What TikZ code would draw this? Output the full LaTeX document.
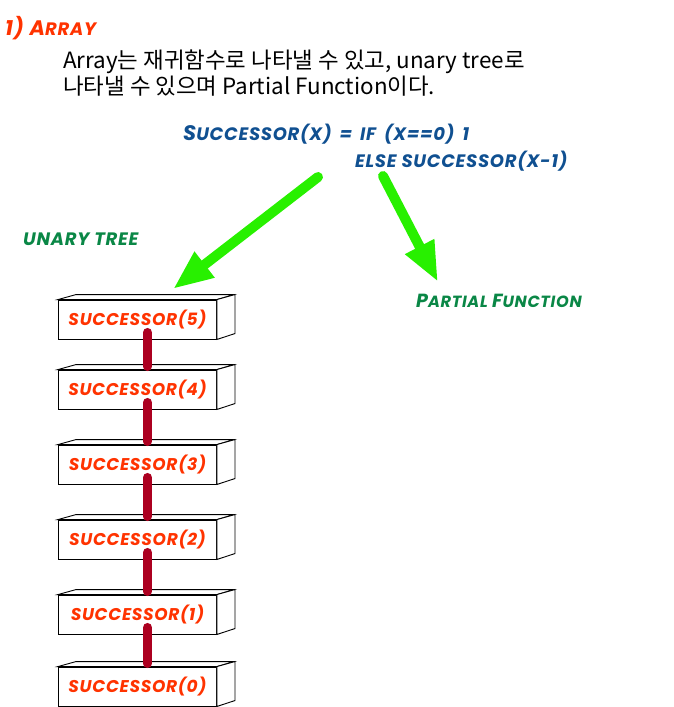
\documentclass[tikz,border=0pt]{standalone}
\usepackage{fontspec}
\setmainfont{Liberation Sans}
\newfontfamily\krfont{Noto Sans CJK KR}
\newfontfamily\comicfont[LetterSpace=4]{Poppins}
\usetikzlibrary{arrows.meta}
\definecolor{titlered}{RGB}{255,51,0}
\definecolor{formblue}{RGB}{16,80,145}
\definecolor{labgreen}{RGB}{10,135,70}
\definecolor{arrgreen}{RGB}{40,240,0}
\definecolor{linkred}{RGB}{172,0,32}
\newcommand\smc{\fontsize{18}{20}\selectfont}
\newcommand\bgc{\fontsize{21}{24}\selectfont}
\newcommand\wsp{\hspace{8pt}}
\tikzset{
  comic/.style={font=\comicfont\bfseries\itshape, inner sep=0pt},
  boxnode/.style={draw=black, line width=0.9pt, fill=white, minimum width=158pt, minimum height=39pt, inner sep=0pt,
    font=\comicfont\bfseries\itshape\fontsize{17}{20}\selectfont, text=titlered},
  face/.style={draw=black, line width=0.9pt, fill=white},
  garrow/.style={draw=arrgreen, line width=10pt, line cap=round, -{Triangle[length=40pt,width=30pt]}},
  link/.style={draw=linkred, line width=9pt, line cap=round},
  desc/.style={anchor=base west, inner sep=0pt, font=\krfont\fontsize{22.4}{26}\selectfont},
}
\begin{document}
\begin{tikzpicture}[x=1pt,y=-1pt]
\useasboundingbox (0,0) rectangle (673,707);
% title
\node[comic, anchor=base west, text=titlered] (title) at (5,35) {{\bgc 1)\ A}{\smc RRAY}};
% description
\node[desc] (desc1) at (63,68) {Array는 재귀함수로 나타낼 수 있고, unary tree로};
\node[desc] (desc2) at (63,94) {나타낼 수 있으며 Partial Function이다.};
% formula
\node[comic, anchor=base west, text=formblue] (f1) at (183,140) {{\bgc S}{\smc UCCESSOR(X)\wsp=\wsp IF\wsp(X==0)\wsp1}};
\node[comic, anchor=base west, text=formblue] (f2) at (355,167) {{\smc ELSE SUCCESSOR(X-1)}};
% labels
\node[comic, anchor=base west, text=labgreen] (unary) at (23,245) {{\smc UNARY TREE}};
\node[comic, anchor=base west, text=labgreen] (partial) at (416,307) {{\fontsize{19}{22}\selectfont P}{\fontsize{16.2}{18}\selectfont ARTIAL }{\fontsize{19}{22}\selectfont F}{\fontsize{16.2}{18}\selectfont UNCTION}};
% boxes
\foreach \n/\top in {5/300,4/370,3/445,2/520,1/595,0/667}{
  \node[boxnode] (b\n) at (137.5,\top+19.5) {SUCCESSOR(\n)};
  \draw[face] (b\n.north west) -- ++(18,-5) -- ++(158,0) -- (b\n.north east) -- cycle;
  \draw[face] (b\n.north east) -- ++(18,-5) -- ++(0,39) -- (b\n.south east) -- cycle;
}
% links
\foreach \a/\b in {5/4,4/3,3/2,2/1,1/0}{
  \draw[link] ([xshift=10pt,yshift=7pt]b\a.south) -- ([xshift=10pt,yshift=3pt]b\b.north);
}
% green arrows
\coordinate (g1s) at (318,177);
\coordinate (g1e) at (173,289);
\coordinate (g2s) at (383,176);
\coordinate (g2e) at (438,282);
\draw[garrow] (g1s) -- (g1e);
\draw[garrow] (g2s) -- (g2e);
\end{tikzpicture}
\end{document}
